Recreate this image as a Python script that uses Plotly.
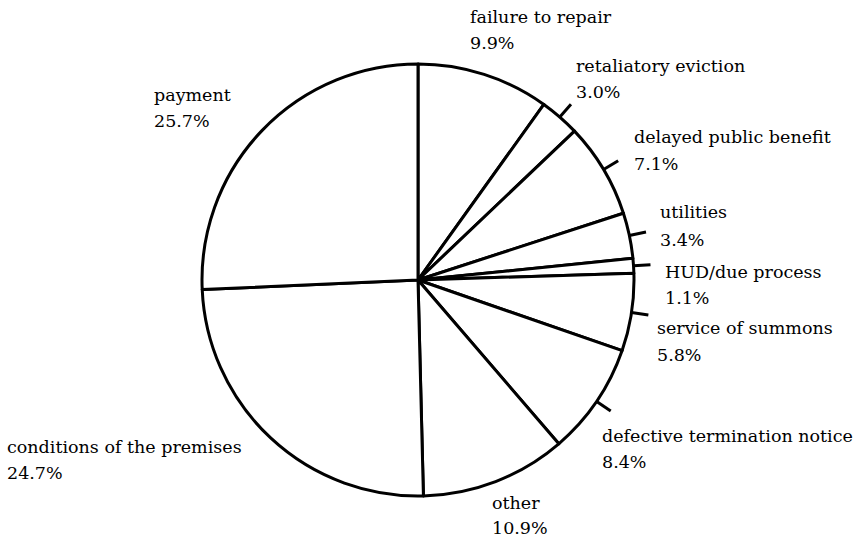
import math
import plotly.graph_objects as go

# ---- data (clockwise from 12 o'clock) ----
categories = [
    "failure to repair",
    "retaliatory eviction",
    "delayed public benefit",
    "utilities",
    "HUD/due process",
    "service of summons",
    "defective termination notice",
    "other",
    "conditions of the premises",
    "payment",
]
percents = [9.9, 3.0, 7.1, 3.4, 1.1, 5.8, 8.4, 10.9, 24.7, 25.7]

# ---- layout (pixels in the 855x539 canvas) ----
W, H = 855, 539
CX, CY, R = 418, 280, 216
TICK_LEN = 17
FONT = dict(family="DejaVu Serif", size=17.5, color="black")

# label placement: left x, centre y of name line, centre y of value line
label_pos = [
    (468, 17, 43),
    (574, 66, 92),
    (632, 137, 164),
    (658, 212, 240),
    (663, 272, 298),
    (655, 328, 355),
    (600, 436, 462),
    (490, 503, 528),
    (5, 447, 473),
    (152, 95, 121),
]
has_tick = [False, True, True, True, True, True, True, False, False, False]


def px(x):
    return x / W


def py(y):
    return 1 - y / H


fig = go.Figure(
    go.Pie(
        labels=categories,
        values=percents,
        sort=False,
        direction="clockwise",
        rotation=0,
        textinfo="none",
        hoverinfo="label+percent",
        showlegend=False,
        marker=dict(colors=["white"] * len(categories), line=dict(color="black", width=3)),
        domain=dict(x=[px(CX - R), px(CX + R)], y=[py(CY + R), py(CY - R)]),
    )
)

total = sum(percents)
shapes = []
annotations = []
cum = 0.0
for name, v, (lx, ly1, ly2), tk in zip(categories, percents, label_pos, has_tick):
    mid = math.radians((cum + v / 2) / total * 360)
    cum += v
    if tk:
        x0 = CX + R * math.sin(mid)
        y0 = CY - R * math.cos(mid)
        x1 = CX + (R + TICK_LEN) * math.sin(mid)
        y1 = CY - (R + TICK_LEN) * math.cos(mid)
        shapes.append(dict(type="line", xref="paper", yref="paper",
                           x0=px(x0), y0=py(y0), x1=px(x1), y1=py(y1),
                           line=dict(color="black", width=3)))
    annotations.append(dict(text=name, x=px(lx), y=py(ly1), xref="paper", yref="paper",
                            xanchor="left", yanchor="middle", showarrow=False, font=FONT))
    annotations.append(dict(text=f"{v:.1f}%", x=px(lx), y=py(ly2), xref="paper", yref="paper",
                            xanchor="left", yanchor="middle", showarrow=False, font=FONT))

fig.update_layout(
    width=W,
    height=H,
    margin=dict(l=0, r=0, t=0, b=0),
    paper_bgcolor="white",
    plot_bgcolor="white",
    shapes=shapes,
    annotations=annotations,
)

fig.write_html(
    "out.html",
    config={"displayModeBar": False},
    post_script="document.body.style.margin='0';document.body.style.overflow='hidden';",
)
